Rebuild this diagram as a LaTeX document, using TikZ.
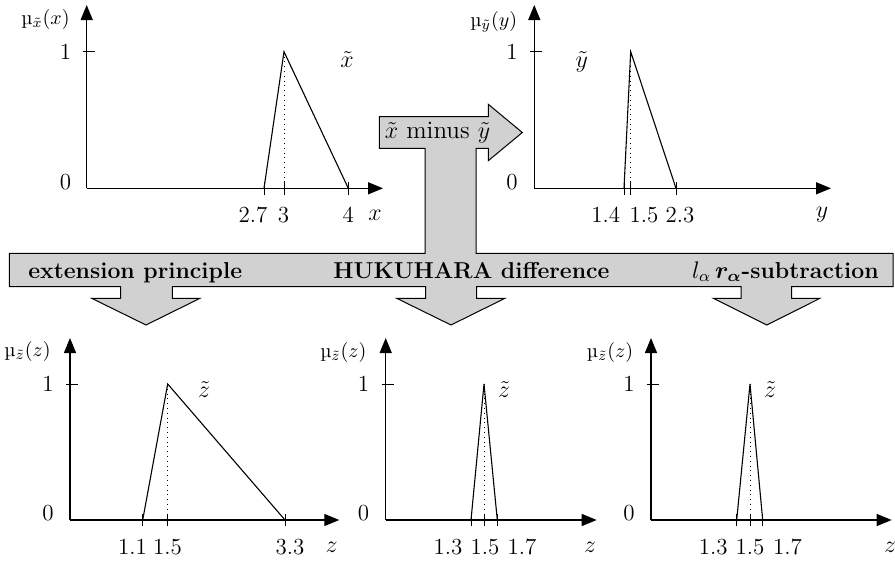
\documentclass[tikz,border=0pt]{standalone}
\usetikzlibrary{arrows.meta}
\begin{document}
\begin{tikzpicture}[x={(0.5pt,0)},y={(0,-0.5pt)},
  axisline/.style={line width=0.65pt,-{Triangle[length=7.5pt,width=6pt]}},
  memb/.style={line width=0.55pt, line join=miter},
  guide/.style={dotted, line width=0.4pt},
  tickmark/.style={line width=0.5pt},
  num/.style={inner sep=0pt, font=\fontsize{11.5}{13}\selectfont},
  ylab/.style={inner sep=0pt, anchor=east, font=\fontsize{11.5}{13}\selectfont},
  mlab/.style={inner sep=0pt, font=\fontsize{10}{12}\selectfont},
  bandtext/.style={inner sep=0pt, anchor=base west, font=\fontsize{11.5}{13}\selectfont\bfseries},
  flow/.style={draw, line width=0.5pt, fill=black!18, line join=miter}]
\useasboundingbox (0,0) rectangle (895,562);

% ---------- flow shape (band, T arrow, three down arrows) ----------
\draw[flow] (9.3,253.3) -- (425,253.3) -- (425,148.3) -- (379.3,148.3) -- (379.3,116.7)
  -- (488.3,116.7) -- (488.3,104.3) -- (522.3,132.5) -- (488.3,160.7) -- (488.3,148.3)
  -- (476,148.3) -- (476,253.3) -- (893,253.3) -- (893,286.7)
  -- (791.7,286.7) -- (791.7,298.3) -- (820,298.3) -- (766.7,325) -- (713.3,298.3) -- (741,298.3) -- (741,286.7)
  -- (476.7,286.7) -- (476.7,298.3) -- (505,298.3) -- (451,325) -- (396.7,298.3) -- (425.7,298.3) -- (425.7,286.7)
  -- (172.3,286.7) -- (172.3,298.3) -- (200,298.3) -- (146,325) -- (91.7,298.3) -- (120.7,298.3) -- (120.7,286.7)
  -- (9.3,286.7) -- cycle;
\node[num, font=\fontsize{12.5}{14}\selectfont] (minus) at (437.5,132.5) {$\tilde{x}$ minus $\tilde{y}$};
\node[bandtext] (ext) at (28,278.3) {extension principle};
\node[bandtext] (huk) at (333,278.3) {HUKUHARA difference};
\node[bandtext] (lr) at (691.7,278.3) {$l_\alpha\,${\boldmath$r_\alpha$}-subtraction};

% ---------- plot 1: x ----------
\coordinate (o1) at (86.7,188.3);
\coordinate (ya1) at (86.7,5);
\coordinate (xa1) at (383,188.3);
\draw[axisline] (o1) -- (ya1);
\draw[axisline] (o1) -- (xa1);
\draw[tickmark] (82.7,51.7) -- (94.7,51.7);
\coordinate (a1) at (264,188.3);
\coordinate (p1) at (284,51.7);
\coordinate (b1) at (348.3,188.3);
\draw[guide] (p1) -- (284,188.3);
\draw[memb] (a1) -- (p1) -- (b1);
\foreach \t in {264,284,348.3} \draw[tickmark] (\t,182) -- (\t,194.5);
\node[ylab] (one1) at (71.5,51.7) {1};
\node[ylab] (zero1) at (71.5,181.7) {0};
\node[mlab] (mu1) at (45.5,20) {µ$_{\tilde{x}}(x)$};
\node[num] (l1a) at (253,215) {2.7};
\node[num] (l1b) at (283.5,215) {3};
\node[num] (l1c) at (348.3,215) {4};
\node[num] (l1x) at (375,215) {$x$};
\node[num] (t1) at (347,60) {$\tilde{x}$};

% ---------- plot 2: y ----------
\coordinate (o2) at (534.3,188.3);
\coordinate (ya2) at (534.3,5);
\coordinate (xa2) at (831,188.3);
\draw[axisline] (o2) -- (ya2);
\draw[axisline] (o2) -- (xa2);
\draw[tickmark] (530.3,51.7) -- (542.3,51.7);
\coordinate (a2) at (624,188.3);
\coordinate (p2) at (630.7,51.7);
\coordinate (b2) at (676,188.3);
\draw[guide] (p2) -- (630.7,188.3);
\draw[memb] (a2) -- (p2) -- (b2);
\foreach \t in {624,630.7,676} \draw[tickmark] (\t,182) -- (\t,194.5);
\node[ylab] (one2) at (518,51.7) {1};
\node[ylab] (zero2) at (518,181.7) {0};
\node[mlab] (mu2) at (493.7,21.7) {µ$_{\tilde{y}}(y)$};
\node[num] (l2a) at (605.8,215) {1.4};
\node[num] (l2b) at (644,215) {1.5};
\node[num] (l2c) at (680,215) {2.3};
\node[num] (l2y) at (822,215) {$y$};
\node[num] (t2) at (581.7,61.7) {$\tilde{y}$};

% ---------- plot 3: extension principle ----------
\coordinate (o3) at (70,520);
\coordinate (ya3) at (70,338);
\coordinate (xa3) at (339.3,520);
\draw[axisline] (o3) -- (ya3);
\draw[axisline] (o3) -- (xa3);
\draw[tickmark] (66,384) -- (78,384);
\coordinate (a3) at (142.7,520);
\coordinate (p3) at (167.7,384);
\coordinate (b3) at (285,520);
\draw[guide] (p3) -- (167.7,520);
\draw[memb] (a3) -- (p3) -- (b3);
\foreach \t in {142.7,167.7,285} \draw[tickmark] (\t,514) -- (\t,526);
\node[ylab] (one3) at (54,384) {1};
\node[ylab] (zero3) at (54,513.5) {0};
\node[mlab] (mu3) at (27.5,351.7) {µ$_{\tilde{z}}(z)$};
\node[num] (l3a) at (132.5,547) {1.1};
\node[num] (l3b) at (167.5,547) {1.5};
\node[num] (l3c) at (290,547) {3.3};
\node[num] (l3z) at (331.7,547) {$z$};
\node[num] (t3) at (204,390) {$\tilde{z}$};

% ---------- plot 4: Hukuhara ----------
\coordinate (o4) at (385.7,520);
\coordinate (ya4) at (385.7,338);
\coordinate (xa4) at (596.7,520);
\draw[axisline] (o4) -- (ya4);
\draw[axisline] (o4) -- (xa4);
\draw[tickmark] (381.7,384) -- (393.7,384);
\coordinate (a4) at (471,520);
\coordinate (p4) at (484,384);
\coordinate (b4) at (497.3,520);
\draw[guide] (p4) -- (484,520);
\draw[memb] (a4) -- (p4) -- (b4);
\foreach \t in {471,484,497.3} \draw[tickmark] (\t,514) -- (\t,526);
\node[ylab] (one4) at (369.5,384) {1};
\node[ylab] (zero4) at (369.5,513.5) {0};
\node[mlab] (mu4) at (343.3,352) {µ$_{\tilde{z}}(z)$};
\node[num] (l4a) at (448,547) {1.3};
\node[num] (l4b) at (485,547) {1.5};
\node[num] (l4c) at (522,547) {1.7};
\node[num] (l4z) at (590,547) {$z$};
\node[num] (t4) at (504,390) {$\tilde{z}$};

% ---------- plot 5: lr-subtraction ----------
\coordinate (o5) at (651,520);
\coordinate (ya5) at (651,338);
\coordinate (xa5) at (891.7,520);
\draw[axisline] (o5) -- (ya5);
\draw[axisline] (o5) -- (xa5);
\draw[tickmark] (647,384) -- (659,384);
\coordinate (a5) at (736.7,520);
\coordinate (p5) at (750,384);
\coordinate (b5) at (762.7,520);
\draw[guide] (p5) -- (750,520);
\draw[memb] (a5) -- (p5) -- (b5);
\foreach \t in {736.7,750,762.7} \draw[tickmark] (\t,514) -- (\t,526);
\node[ylab] (one5) at (635,384) {1};
\node[ylab] (zero5) at (635,513.5) {0};
\node[mlab] (mu5) at (610,352) {µ$_{\tilde{z}}(z)$};
\node[num] (l5a) at (713.3,547) {1.3};
\node[num] (l5b) at (750,547) {1.5};
\node[num] (l5c) at (787.5,547) {1.7};
\node[num] (l5z) at (890,547) {$z$};
\node[num] (t5) at (770,390) {$\tilde{z}$};
\end{tikzpicture}
\end{document}
